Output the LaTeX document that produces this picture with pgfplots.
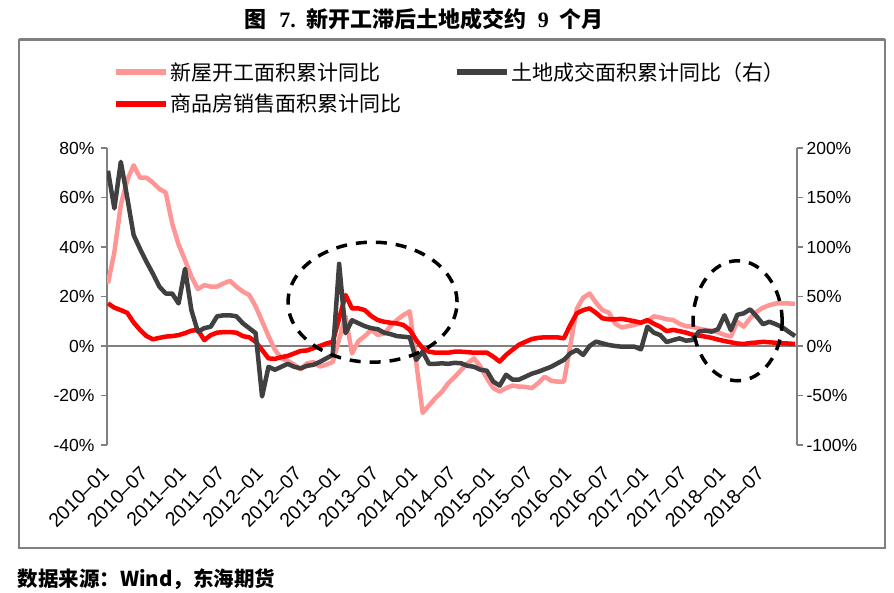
\documentclass[border=0pt]{standalone}
\usepackage{fontspec}
\setmainfont{Liberation Sans}
\newfontfamily\cjk{Noto Sans CJK SC}
\newfontfamily\serifb{Liberation Serif}
\usepackage{pgfplots}
\pgfplotsset{compat=1.18}
\definecolor{pinkc}{RGB}{255,150,150}
\definecolor{darkc}{RGB}{64,64,64}
\definecolor{redc}{RGB}{255,0,0}
\definecolor{axc}{RGB}{128,128,128}
\pgfplotsset{
  common/.style={
    scale only axis, width=690pt, height=297pt,
    at={(107pt,-445pt)}, anchor=south west,
    xmin=-0.15, xmax=107.3,
    tick align=outside, major tick length=6pt,
    every tick/.style={axc, line width=1.2pt},
    /pgf/number format/assume math mode=true,
    yticklabel={\pgfmathprintnumber{\tick}\%},
    yticklabel style={font=\fontsize{17.5}{20}\selectfont},
  },
  ln/.style={line width=4.5pt, line join=round},
}
\begin{document}
\begin{tikzpicture}
\useasboundingbox (0pt,0pt) rectangle (894pt,-593pt);
\draw[axc, line width=1.2pt] (19pt,-40pt) rectangle (885pt,-548pt);
\draw[axc, line width=2.5pt] (19pt,-39pt) -- (885pt,-39pt);
\node[font=\fontsize{22}{26}\selectfont\cjk\bfseries] at (424pt,-19pt) {图\hspace{0.6em}{\serifb\bfseries 7.}\hspace{0.5em}新开工滞后土地成交约\hspace{0.5em}{\serifb\bfseries 9}\hspace{0.5em}个月};
\node[anchor=west, font=\fontsize{20.5}{24}\selectfont\cjk\bfseries] at (14pt,-579pt) {数据来源：Wind，东海期货};

\begin{axis}[common,
  ymin=-40, ymax=80, ytick={-40,-20,...,80},
  axis y line*=left, axis x line*=bottom,
  y axis line style={axc, line width=1.2pt},
  yticklabel style={xshift=-3pt},
  x axis line style={draw=none},
  xtick={0,6,...,102},
  xticklabels={2010–01,2010–07,2011–01,2011–07,2012–01,2012–07,2013–01,2013–07,2014–01,2014–07,2015–01,2015–07,2016–01,2016–07,2017–01,2017–07,2018–01,2018–07},
  x tick style={draw=none},
  xticklabel shift=17pt,
  x tick label style={rotate=45, anchor=east, font=\fontsize{19.5}{22}\selectfont},
  extra y ticks={0}, extra y tick labels={},
  extra y tick style={grid=major, major grid style={axc, line width=1.8pt}},
  legend columns=2,
  legend cell align=left,
  legend image code/.code={\draw[#1, line width=6pt] (0pt,0pt) -- (50pt,0pt);},
  legend style={at={(axis description cs:0.008,1.2946)}, anchor=north west,
    draw=none, fill=none, inner sep=0pt,
    font=\fontsize{21}{25}\selectfont\cjk,
    row sep=8pt,
    /tikz/every even column/.append style={column sep=50pt}},
]
\addplot[pinkc, ln] coordinates {
(0,25.3)(1,38)(2,57)(3,67)(4,73)(5,68)(6,68)(7,66)(8,63.5)(9,62)(10,49.5)(11,41)(12,34.7)(13,28)(14,23)(15,24.6)(16,24)(17,24)(18,25.3)(19,26.3)(20,24)(21,22)(22,20.6)(23,16)(24,10)(25,4)(26,-1.5)(27,-5)(28,-6)(29,-7.5)(30,-9.5)(31,-7)(32,-6.5)(33,-8.3)(34,-7.5)(35,-6.5)(37,12)(38,-3)(39,2)(40,4)(41,6.5)(42,4.5)(43,5)(44,8)(45,10.5)(46,12.5)(47,14)(49,-27)(50,-24)(51,-21)(52,-18.5)(53,-15)(54,-12.5)(55,-9.7)(56,-7)(57,-5)(58,-8.3)(59,-13)(60,-17)(61,-18.4)(62,-17)(63,-16)(64,-16.4)(65,-16.5)(66,-17)(67,-15)(68,-12.4)(69,-14)(70,-14.4)(71,-14.4)(73,15)(74,19.5)(75,21.2)(76,17.5)(77,14.5)(78,13.5)(79,9)(80,7.5)(81,8)(82,8.5)(83,9.5)(84,10)(85,12)(86,11.5)(87,10.8)(88,10.5)(89,9)(90,8)(91,7.8)(92,7)(93,6.5)(94,6.2)(95,5.5)(96,4.5)(97,3.8)(98,9.8)(99,7.8)(100,11.2)(101,13.8)(102,15.5)(103,16.5)(104,17.2)(105,17.2)(106,17.2)(107,17)
};
\addlegendentry{新屋开工面积累计同比}
\addlegendimage{darkc}
\addlegendentry{土地成交面积累计同比（右）}
\addplot[redc, ln] coordinates {
(0,17.2)(1,15.5)(2,14.5)(3,13.4)(4,9.5)(5,6.5)(6,4)(7,2.7)(8,3.3)(9,3.8)(10,4)(11,4.4)(12,5.2)(13,6.2)(14,6.5)(15,2.4)(16,4.4)(17,5.4)(18,5.6)(19,5.6)(20,5.4)(21,4)(22,3.5)(23,1.7)(24,-1.6)(25,-5)(26,-5.2)(27,-4.5)(28,-4)(29,-3)(30,-2)(31,-1.8)(32,-0.9)(33,0)(34,1)(35,1.7)(37,20.6)(38,15.2)(39,15.2)(40,14.5)(41,12.1)(42,10.5)(43,9.8)(44,9.4)(45,9.1)(46,8.5)(47,6.5)(48,2.4)(49,-0.9)(50,-2.3)(51,-2.7)(52,-2.7)(53,-2.7)(54,-2.3)(55,-2.3)(56,-2.5)(57,-2.7)(58,-2.7)(59,-2.7)(60,-4.3)(61,-6.3)(62,-3.6)(63,-1.5)(64,0.5)(65,1.7)(66,2.8)(67,3.3)(68,3.5)(69,3.5)(70,3.5)(71,3.1)(72,8.5)(73,13.2)(74,14.5)(75,15.2)(76,13.4)(77,11.2)(78,10.8)(79,10.8)(80,11)(81,10.5)(82,10)(83,9.4)(84,10.5)(85,9)(86,7.8)(87,6)(88,6.5)(89,6)(90,5.4)(91,4.6)(92,4.2)(93,3.8)(94,3.3)(95,2.6)(96,2)(97,1.5)(98,1)(99,0.8)(100,1.2)(101,1.4)(102,1.7)(103,1.5)(104,1.3)(105,1.1)(106,1)(107,0.8)
};
\addlegendentry{商品房销售面积累计同比}
\end{axis}

\begin{axis}[common,
  ymin=-100, ymax=200, ytick={-100,-50,...,200},
  axis y line*=right, axis x line=none,
  y axis line style={axc, line width=1.2pt},
]
\addplot[darkc, ln] coordinates {
(0,177)(1,139)(2,186)(3,150)(4,112)(5,98)(6,85)(7,73)(8,60)(9,53)(10,53)(11,43)(12,78)(13,36)(14,14.5)(15,18)(16,19.5)(17,30)(18,31)(19,31)(20,30)(21,23)(22,18)(23,13)(24,-51)(25,-21)(26,-24)(27,-21)(28,-18)(29,-21)(30,-22.5)(31,-20)(32,-19)(33,-16)(34,-12.5)(35,-9)(36,83)(37,13)(38,26)(39,23)(40,20)(41,18)(42,17)(43,13.5)(44,12)(45,10)(46,9.4)(47,8.7)(48,-14)(49,-5.7)(50,-18)(51,-18)(52,-17.5)(53,-18)(54,-17)(55,-17.5)(56,-20)(57,-21)(58,-24)(59,-25)(60,-36)(61,-40)(62,-29)(63,-34)(64,-34)(65,-31)(66,-28)(67,-26)(68,-23.5)(69,-21)(70,-17.5)(71,-14)(72,-7.4)(73,-4)(74,-9)(75,0)(76,4.4)(77,2.7)(78,1)(79,0)(80,-0.7)(81,-0.7)(82,-0.7)(83,-3.4)(84,19.5)(85,13.5)(86,11)(87,4)(88,6)(89,7.7)(90,5.4)(91,6)(92,14.5)(93,15.5)(94,14.5)(95,17)(96,31)(97,16)(98,31.5)(99,33)(100,37)(101,30)(102,22)(103,24.5)(104,22)(105,19)(106,14.4)(107,10)
};
\draw[black, line width=3.5pt, dash pattern=on 11pt off 9pt] (axis cs:41.2,44.25) ellipse [x radius=84.5pt, y radius=60pt];
\draw[black, line width=3.5pt, dash pattern=on 11pt off 9pt] (axis cs:98.05,25.5) ellipse [x radius=44.5pt, y radius=60pt];
\end{axis}
\end{tikzpicture}
\end{document}
